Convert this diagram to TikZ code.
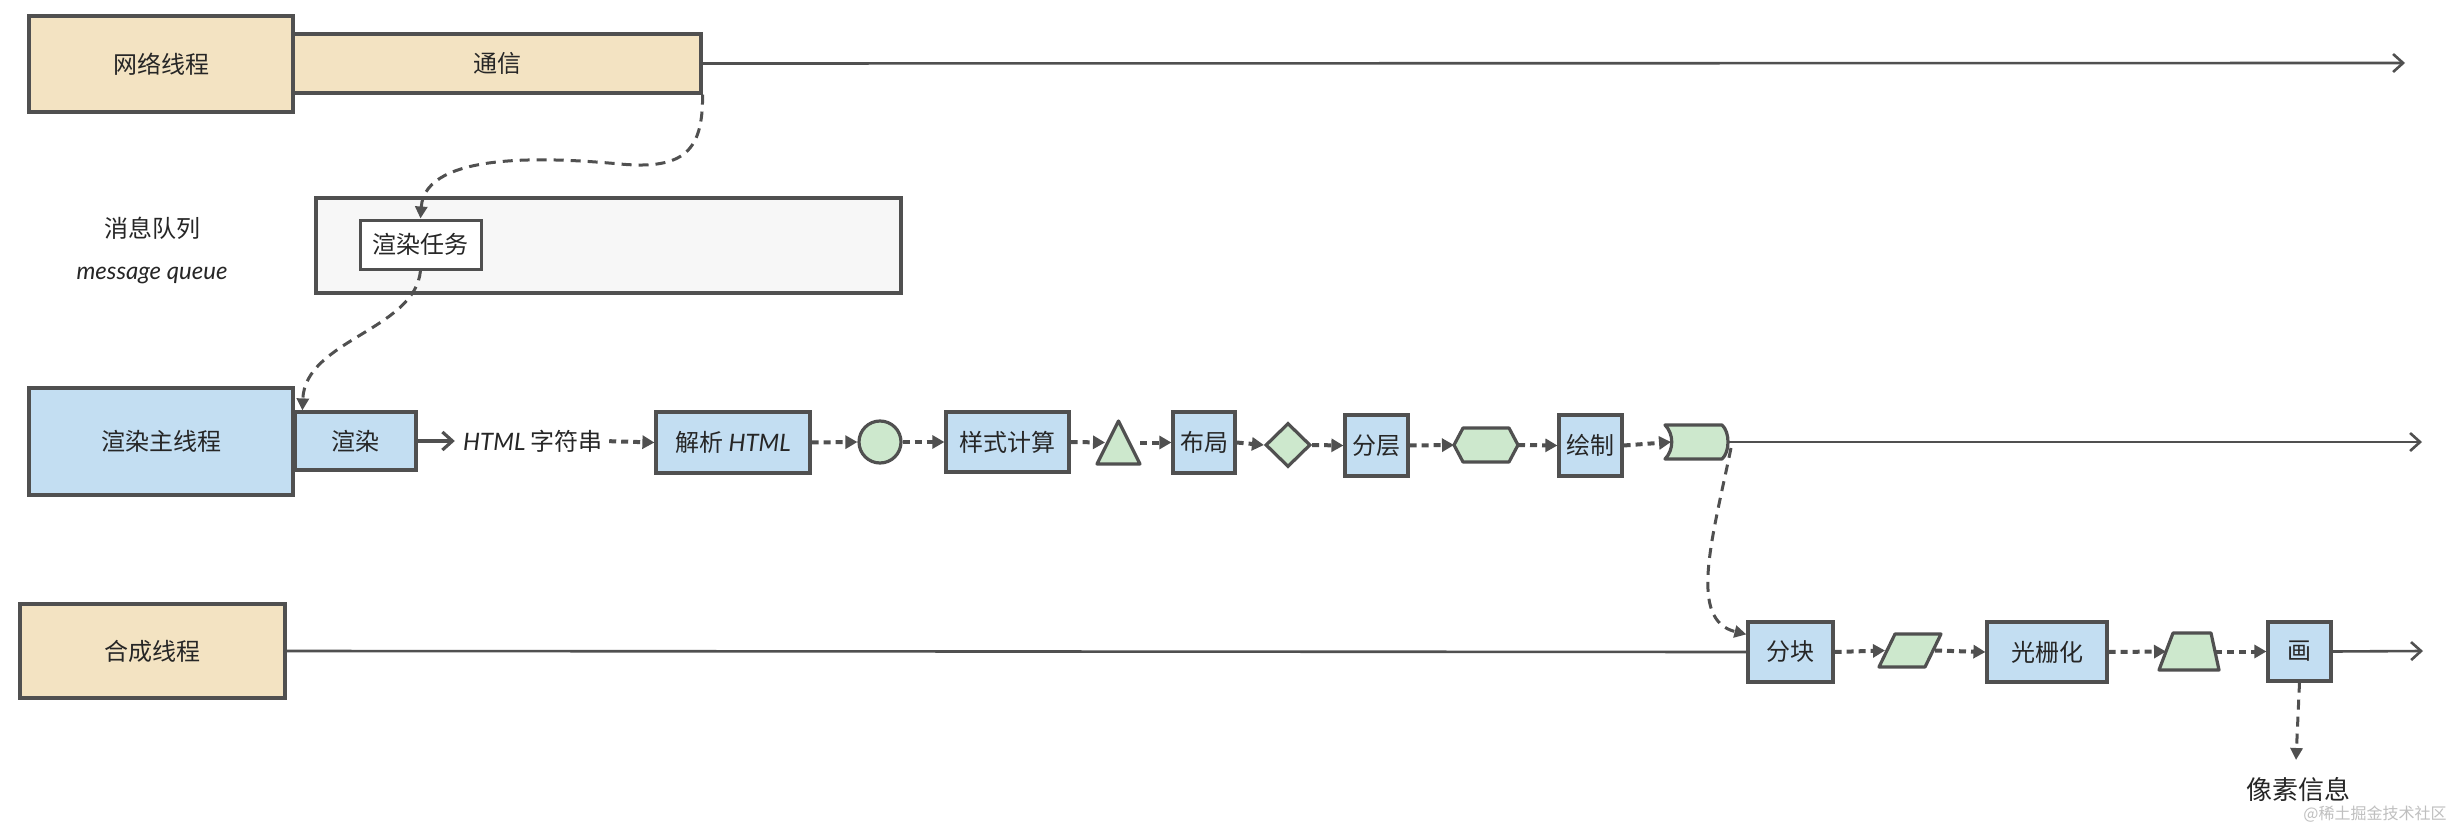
\documentclass[tikz,border=0pt]{standalone}
\usepackage{fontspec}
\setmainfont{Noto Sans CJK SC}
\newfontfamily\lit{Lato}
\usetikzlibrary{arrows.meta,calc,shapes.geometric}
\definecolor{ink}{HTML}{505050}
\definecolor{beige}{HTML}{F3E3C2}
\definecolor{sky}{HTML}{C3DEF2}
\definecolor{mint}{HTML}{CDE8CD}
\definecolor{qgray}{HTML}{F7F7F7}
\begin{document}
\begin{tikzpicture}[x=0.5pt,y=-0.5pt,
  box/.style={draw=ink, line width=1.6pt, inner sep=0pt, font=\fontsize{12}{14}\selectfont, text=black!85},
  bbox/.style={box, fill=sky},
  ybox/.style={box, fill=beige},
  ghost/.style={inner sep=0pt, outer sep=0pt},
  gshape/.style={draw=ink, fill=mint, line width=1.6pt, line join=round},
  flow/.style={draw=ink, line width=2pt, dash pattern=on 3.5pt off 2.5pt, -{Triangle[length=6pt,width=6.5pt]}},
  curvy/.style={draw=ink, line width=1.5pt, dash pattern=on 5pt off 3.5pt, -{Triangle[length=6pt,width=6pt]}},
  axis/.style={draw=ink, line width=1.3pt, -{Straight Barb[length=5pt,width=9pt]}},
  plain/.style={draw=ink, line width=1.3pt},
  lbl/.style={font=\fontsize{12}{14}\selectfont, text=black!85, inner sep=0pt},
]
\useasboundingbox[fill=white] (0,0) rectangle (2458,824);

% network thread
\node[ybox, minimum width=204pt, minimum height=29.5pt] (comm) at (497,63.5) {通信};
\node[ybox, minimum width=132pt, minimum height=48pt] (net) at (161,64) {网络线程};
\coordinate (netend) at (2405,63);
\draw[axis] (comm.east) -- (netend);

% message queue
\node[box, fill=qgray, minimum width=292.5pt, minimum height=47.5pt] (queue) at (608.5,245.5) {};
\node[box, fill=white, line width=1.5pt, minimum width=60.5pt, minimum height=24.5pt] (task) at (420.5,244.5) {渲染任务};
\node[lbl] (qcn) at (152,228) {消息队列};
\node[lbl, font=\lit\itshape\fontsize{12}{14}\selectfont] (qen) at (152,276) {message queue};

% main thread
\node[bbox, minimum width=132pt, minimum height=53.5pt] (main) at (161,441.5) {渲染主线程};
\node[bbox, minimum width=60.5pt, minimum height=29pt] (render) at (355.5,441) {渲染};
\node[lbl] (html) at (533,441) {{\lit\itshape HTML} 字符串};
\node[bbox, minimum width=77pt, minimum height=30.5pt] (parse) at (733,442.5) {解析 {\lit\itshape HTML}};
\node[circle, draw=ink, fill=mint, line width=1.6pt, minimum size=21pt, inner sep=0pt] (dom) at (880,442) {};
\node[bbox, minimum width=61.5pt, minimum height=30pt] (style) at (1007.5,442) {样式计算};
\node[ghost, minimum width=21.5pt, minimum height=21.5pt] (tri) at (1118.5,442.5) {};
\filldraw[gshape] (tri.south west) -- (tri.north) -- (tri.south east) -- cycle;
\node[bbox, minimum width=31pt, minimum height=30.5pt] (layout) at (1204,442.5) {布局};
\node[diamond, draw=ink, fill=mint, line width=1.6pt, minimum width=22.5pt, minimum height=22pt, inner sep=0pt] (dia) at (1288,445) {};
\node[bbox, minimum width=31.5pt, minimum height=30.5pt] (layer) at (1376.5,445.5) {分层};
\node[ghost, minimum width=32pt, minimum height=17pt] (hex) at (1486,445) {};
\filldraw[gshape] (hex.west) -- ($(hex.north west)+(9,0)$) -- ($(hex.north east)+(-9,0)$) -- (hex.east) -- ($(hex.south east)+(-9,0)$) -- ($(hex.south west)+(9,0)$) -- cycle;
\node[bbox, minimum width=31.5pt, minimum height=30.5pt] (paint) at (1590.5,445.5) {绘制};
\node[ghost, minimum width=31pt, minimum height=17pt] (flag) at (1696,442) {};
\filldraw[gshape] (flag.north west) -- ($(flag.north east)+(-5,0)$) .. controls ($(flag.east)+(3,-10)$) and ($(flag.east)+(3,10)$) .. ($(flag.south east)+(-5,0)$) -- (flag.south west) .. controls ($(flag.west)+(9,8)$) and ($(flag.west)+(9,-8)$) .. (flag.north west) -- cycle;
\coordinate (mainend) at (2422,442);
\draw[axis] (flag.east) -- (mainend);

% compositor thread
\node[ybox, minimum width=132.5pt, minimum height=47pt] (comp) at (152.5,651) {合成线程};
\node[bbox, minimum width=42.5pt, minimum height=30pt] (tile) at (1790.5,652) {分块};
\node[ghost, minimum width=31pt, minimum height=16.5pt] (para) at (1910,650.5) {};
\filldraw[gshape] ($(para.north west)+(16,0)$) -- (para.north east) -- ($(para.south east)+(-16,0)$) -- (para.south west) -- cycle;
\node[bbox, minimum width=60pt, minimum height=30pt] (raster) at (2047,652) {光栅化};
\node[ghost, minimum width=30pt, minimum height=18.5pt] (trap) at (2189,651.5) {};
\filldraw[gshape] ($(trap.north west)+(14,0)$) -- ($(trap.north east)+(-8,0)$) -- (trap.south east) -- (trap.south west) -- cycle;
\node[bbox, minimum width=31.5pt, minimum height=29.5pt] (drw) at (2299.5,651.5) {画};
\node[lbl, font=\fontsize{13}{15}\selectfont] (pix) at (2298,790) {像素信息};
\node[lbl, font=\fontsize{8}{9}\selectfont, text=black!25] (wm) at (2375,814) {@稀土掘金技术社区};
\coordinate (drawend) at (2423,651);
\coordinate (pixend) at (2296,760);

% connectors
\draw[curvy] (comm.south east) .. controls (703,150) and (685,170) .. (620,164) .. controls (555,158) and (425,150) .. (task.north);
\draw[curvy] (task.south) .. controls (415,330) and (305,340) .. ($(render.north west)+(9,0)$);
\draw[axis, line width=1.6pt, shorten >=4pt] (render.east) -- (html.west);
\draw[flow, shorten <=3pt] (html.east) -- (parse.west);
\draw[flow] (parse.east) -- (dom.west);
\draw[flow] (dom.east) -- (style.west);
\draw[flow] (style.east) -- ($(tri.west)+(8,0)$);
\draw[flow] (tri.east) -- (layout.west);
\draw[flow] (layout.east) -- (dia.west);
\draw[flow] (dia.east) -- (layer.west);
\draw[flow] (layer.east) -- (hex.west);
\draw[flow] (hex.east) -- (paint.west);
\draw[flow] (paint.east) -- ($(flag.west)+(6,0)$);
\draw[curvy] ($(flag.east)+(4,6)$) .. controls (1712,540) and (1688,620) .. ($(tile.north west)+(0,14)$);
\draw[plain] (comp.east) -- (tile.west);
\draw[flow] (tile.east) -- ($(para.west)+(6,0)$);
\draw[flow] ($(para.east)+(-6,0)$) -- (raster.west);
\draw[flow] (raster.east) -- ($(trap.west)+(7,0)$);
\draw[flow] ($(trap.east)+(-4,0)$) -- (drw.west);
\draw[axis] (drw.east) -- (drawend);
\draw[curvy] (drw.south) -- (pixend);
\end{tikzpicture}
\end{document}
